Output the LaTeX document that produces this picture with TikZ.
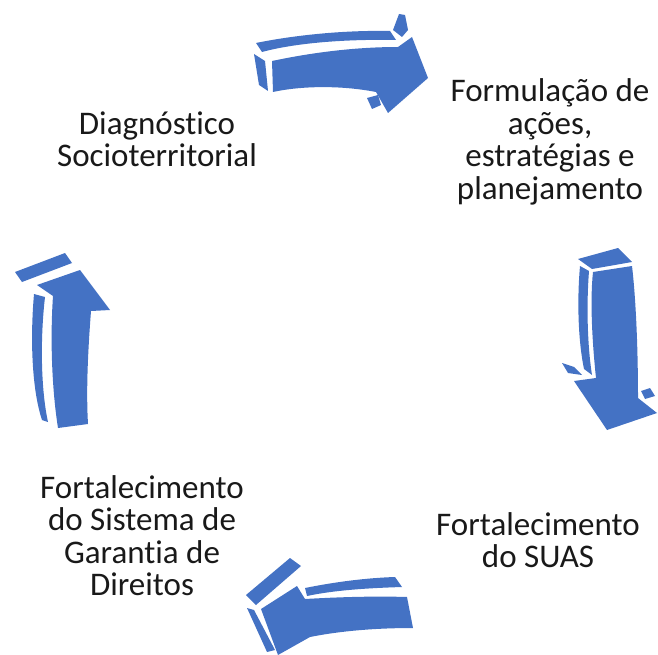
\documentclass[tikz,border=0pt]{standalone}
\usepackage{fontspec}
\setmainfont{Carlito}[Ligatures=NoCommon]
\definecolor{arrowblue}{RGB}{68,114,196}
\begin{document}
\begin{tikzpicture}[x=1pt,y=-1pt,
  piece/.style={fill=arrowblue},
  lbl/.style={font=\fontsize{33}{32.5}\selectfont, align=center, inner sep=0pt, anchor=base, text=black!90}]
\useasboundingbox (0,0) rectangle (658,655);
% top arrow
\fill[piece] (272,61) .. controls (305,54) and (350,47) .. (398,47) -- (412,37) -- (428,78) -- (388,113) -- (376,92) .. controls (340,85) and (300,86) .. (273,92) -- cycle;
\fill[piece] (256,43) .. controls (290,36) and (340,30) .. (390,31) -- (396,40) .. controls (345,39) and (295,43) .. (262,52) -- cycle;
\fill[piece] (254,54) -- (265,61) -- (268,91) -- (259,85) -- cycle;
\fill[piece] (393,30) -- (399,14) -- (405,15) -- (408,30) -- (402,37) -- cycle;
\fill[piece] (367,98) -- (378,95) -- (381,105) -- (372,109) -- cycle;
% right arrow
\fill[piece] (593,272) -- (632,266) .. controls (636,300) and (638,350) .. (638,398) -- (657,413) -- (607,430) -- (574,381) -- (596,378) .. controls (592,340) and (590,300) .. (593,272) -- cycle;
\fill[piece] (578,259) -- (618,248) -- (632,262) -- (592,269) -- cycle;
\fill[piece] (580,266) -- (589,271) .. controls (586,310) and (588,350) .. (592,375) -- (584,369) .. controls (578,340) and (577,300) .. (580,266) -- cycle;
\fill[piece] (562,363) -- (574,367) -- (582,375) -- (568,373) -- cycle;
\fill[piece] (641,391) -- (650,388) -- (655,396) -- (645,399) -- cycle;
% bottom arrow
\fill[piece] (246,595) -- (290,558) -- (301,566) -- (256,605) -- cycle;
\fill[piece] (305,588) .. controls (335,582) and (365,578) .. (395,577) -- (402,587) .. controls (370,588) and (335,590) .. (307,596) -- cycle;
\fill[piece] (297,586) -- (305,599) .. controls (340,597) and (375,596) .. (407,597) -- (413,628) .. controls (375,628) and (340,631) .. (310,637) -- (278,655) -- (261,609) -- cycle;
\fill[piece] (247,608) -- (254,610) -- (275,650) -- (267,652) -- cycle;
% left arrow
\fill[piece] (15,272) -- (65,253) -- (72,263) -- (22,282) -- cycle;
\fill[piece] (37,285) -- (80,270) -- (110,310) -- (91,311) .. controls (88,350) and (86,390) .. (88,424) -- (58,428) .. controls (52,390) and (50,340) .. (53,296) -- cycle;
\fill[piece] (34,294) -- (45,297) .. controls (40,340) and (41,390) .. (48,422) -- (42,420) .. controls (32,390) and (30,340) .. (34,294) -- cycle;
% labels
\node[lbl] (diag) at (157,167) {Diagnóstico\\Socioterritorial};
\node[lbl] (form) at (550,199.5) {Formulação de\\ações,\\estratégias e\\planejamento};
\node[lbl] (suas) at (538,567.5) {Fortalecimento\\do SUAS};
\node[lbl] (sgd) at (142,595.5) {Fortalecimento\\do Sistema de\\Garantia de\\Direitos};
\end{tikzpicture}
\end{document}
